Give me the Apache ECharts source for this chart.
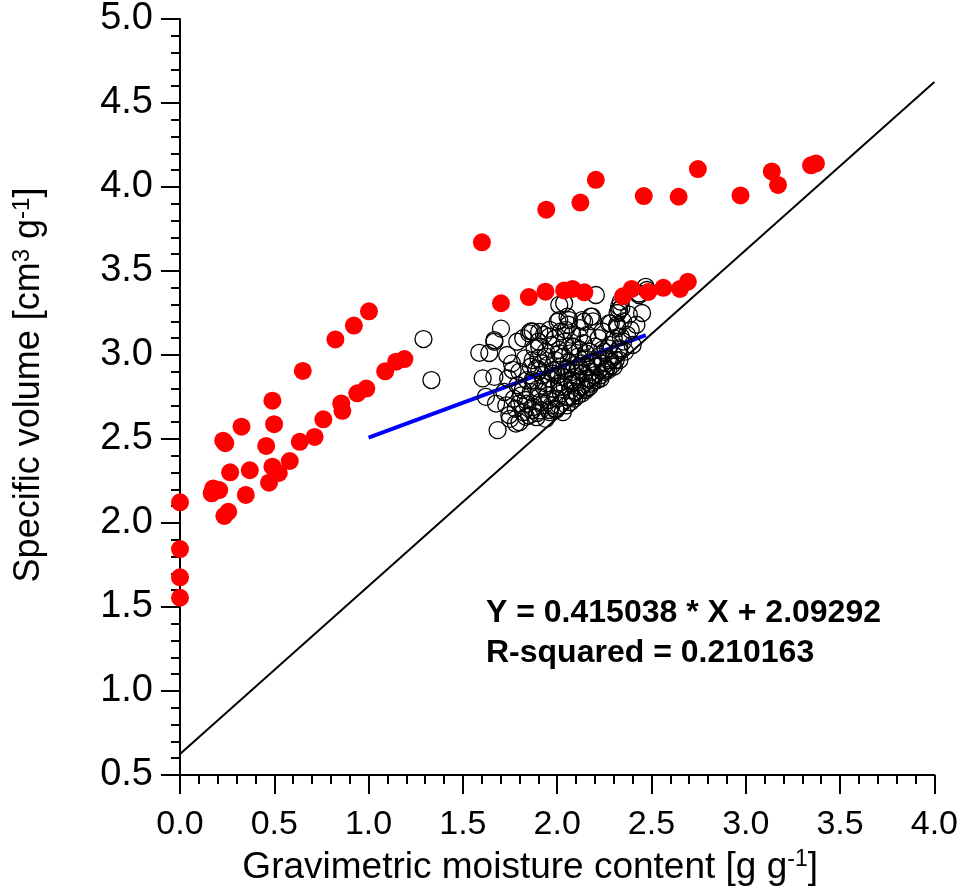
<!DOCTYPE html>
<html>
<head>
<meta charset="utf-8">
<script src="https://cdn.jsdelivr.net/npm/echarts@6/dist/echarts.min.js"></script>
<style>
html,body{margin:0;padding:0;background:#fff;}
#chart{width:961px;height:891px;}
</style>
</head>
<body>
<div id="chart"></div>
<script>
// Red filled points: [moisture, specific volume]
const redPoints = [
  [0.0,2.123],[0.0,1.845],[0.0,1.677],[0.0,1.555],
  [1.002,3.26],[0.922,3.175],[0.824,3.093],[0.651,2.905],[0.490,2.728],[0.499,2.588],
  [0.326,2.573],[0.229,2.49],[0.24,2.475],[0.457,2.459],[0.635,2.483],[0.714,2.512],
  [0.760,2.617],[0.855,2.712],[0.861,2.668],[0.940,2.772],[0.988,2.80],[1.088,2.903],
  [1.146,2.960],[1.190,2.976],[0.266,2.302],[0.370,2.314],[0.490,2.335],[0.524,2.298],
  [0.582,2.369],[0.472,2.240],[0.349,2.167],[0.176,2.206],[0.208,2.196],[0.168,2.177],
  [0.235,2.042],[0.256,2.067],
  [1.601,3.671],[1.942,3.865],[2.123,3.907],[2.205,4.043],[2.459,3.946],[2.644,3.942],
  [2.746,4.107],[2.972,3.950],[3.138,4.093],[3.171,4.012],[3.346,4.129],[3.372,4.140],
  [1.702,3.308],[1.850,3.345],[1.938,3.377],[2.037,3.384],[2.081,3.393],[2.144,3.373],
  [2.349,3.349],[2.395,3.393],[2.483,3.375],[2.563,3.40],[2.651,3.393],[2.693,3.436]
];

// Black open circles: [moisture, specific volume]
const blackPoints = [
  [1.291,3.095],[1.333,2.851],
  [1.702,3.157],[1.587,3.013],[1.640,3.012],[1.667,3.079],[1.735,3.00],[1.605,2.861],
  [1.667,2.87],[1.622,2.751],[1.676,2.711],[1.684,2.553],[1.746,2.643],[1.781,2.592],
  [1.834,2.632],[1.894,2.655],[1.958,2.673],[1.788,3.079],[1.852,3.129],[2.011,3.298],
  [2.037,3.308],[2.055,3.228],[2.011,3.208],[2.132,3.208],[2.185,3.228],[2.205,3.357],
  [2.328,3.288],[2.32,3.25],[2.434,3.366],[2.476,3.387],[2.275,3.188],[2.317,3.179],
  [2.337,3.109],[2.328,3.03],[2.275,2.970],[2.257,2.911],[2.238,3.03],[2.178,2.851],
  [2.152,2.792],[2.081,2.751],[1.993,2.673],[1.799,2.711],[1.817,2.792],[1.764,2.911],
  [1.870,2.970],[1.905,3.049],[1.958,3.109],[2.046,3.149],[2.116,3.109],[2.152,3.01],
  [2.081,3.049],[2.011,3.01],[1.940,2.99],[1.905,2.911],[1.975,2.89],[2.046,2.911],
  [2.116,2.93],[2.081,2.851],[2.011,2.811],[1.940,2.831],[1.870,2.851],[1.834,2.732],
  [1.905,2.751],[1.958,2.732],[1.870,2.673],
  [2.337,3.317],[2.328,3.268],[2.469,3.406],[2.434,3.357],[2.002,3.198],[2.063,3.208],
  [2.143,3.198],[2.178,3.228],[2.284,3.188],[2.319,3.168],[1.87,3.14],[1.905,3.138],
  [1.667,3.089],
  [1.86,2.78],[1.88,2.84],[1.89,2.92],[1.90,2.98],[1.91,2.72],[1.92,2.88],[1.93,2.81],
  [1.94,3.02],[1.95,2.76],[1.95,2.94],[1.96,2.86],[1.97,2.70],[1.97,3.06],[1.98,2.91],
  [1.98,2.80],[1.99,2.97],[2.00,2.74],[2.00,2.88],[2.01,3.03],[2.01,2.83],[2.02,2.93],
  [2.02,2.77],[2.03,2.99],[2.03,2.87],[2.04,2.81],[2.04,3.08],[2.05,2.92],[2.05,2.75],
  [2.06,2.96],[2.06,2.85],[2.07,3.01],[2.07,2.79],[2.08,2.90],[2.08,2.83],[2.09,3.05],
  [2.09,2.94],[2.10,2.87],[2.10,2.78],[2.11,2.99],[2.11,2.91],[2.12,2.84],[2.12,3.03],
  [2.13,2.95],[2.13,2.81],[2.14,2.89],[2.14,3.07],[2.15,2.98],[2.16,2.86],[2.16,2.93],
  [2.17,3.02],[2.18,2.90],[2.18,2.83],[2.19,2.96],[2.20,3.05],[2.20,2.88],[2.21,2.93],
  [2.22,2.99],[2.23,2.86],[2.24,2.95],[2.25,3.02],[2.26,2.92],[2.27,2.98],[2.28,3.06],
  [2.29,2.94],[2.30,3.00],[2.31,2.97],[2.33,3.04],[2.35,3.08],[2.37,3.12],[2.39,3.15],
  [2.42,3.18],[2.45,3.25],
  [1.72,2.78],[1.73,2.70],[1.74,2.86],[1.75,2.62],[1.76,2.95],[1.77,2.74],[1.78,2.68],
  [1.79,2.82],[1.80,2.90],[1.80,2.60],[1.81,2.76],[1.82,2.66],[1.83,2.98],[1.84,2.71],
  [1.84,2.85],[1.85,2.64],[1.86,2.93],[1.87,2.69],[1.88,3.04],[1.89,2.63],[1.90,2.80],
  [1.91,2.67],[1.92,2.95],[1.93,2.70],[1.94,2.62],[1.96,2.66],[1.99,2.68],[2.01,2.70],
  [2.03,2.66],[2.05,2.70],[2.07,2.72],[2.09,2.74],[2.11,2.76],[2.13,2.77],[2.15,2.80],
  [2.17,2.81],[2.19,2.84],[2.21,2.85],[2.23,2.88],[2.25,2.90],[2.27,2.91],[2.30,2.93],
  [2.33,2.97],[2.36,3.02],[2.40,3.06],
  [1.82,3.10],[1.86,3.14],[1.90,3.08],[1.93,3.12],[1.96,3.15],[1.99,3.10],[2.02,3.14],
  [2.06,3.18],[2.08,3.12],[2.12,3.16],[2.16,3.12],[2.19,3.20],[2.22,3.10],[2.24,3.14],
  [2.27,3.04],[2.30,3.10],[2.32,3.16],[2.35,3.20],[2.38,3.24],[2.34,3.28]
];

// Regression line endpoints (Y = 0.415038 * X + 2.09292)
const fitLine = [[1.0,2.508],[2.47,3.118]];
// 1:1 reference line endpoints
const refLine = [[0.0,0.625],[4.0,4.625]];

const eqText1 = 'Y = 0.415038 * X + 2.09292';
const eqText2 = 'R-squared = 0.210163';

const chart = echarts.init(document.getElementById('chart'), null, {renderer:'canvas'});
const FONT = '"Liberation Sans", Arial, sans-serif';
chart.setOption({
  animation:false,
  backgroundColor:'#fff',
  grid:{left:180,right:25,top:18,bottom:116,containLabel:false},
  xAxis:{
    type:'value',min:0,max:4,interval:0.5,
    axisLine:{show:true,onZero:false,lineStyle:{color:'#000',width:2}},
    axisTick:{show:true,inside:false,length:19,lineStyle:{color:'#000',width:2}},
    minorTick:{show:true,splitNumber:5,length:9,lineStyle:{color:'#000',width:2}},
    splitLine:{show:false},
    axisLabel:{color:'#000',fontFamily:FONT,fontSize:34,margin:33,formatter:v=>v.toFixed(1)},
    name:'Gravimetric moisture content [g g{sup|-1}]',
    nameLocation:'middle',nameGap:73,
    nameTextStyle:{color:'#000',fontFamily:FONT,fontSize:37,padding:[0,54,0,0],
      rich:{sup:{fontFamily:FONT,fontSize:23,color:'#000',verticalAlign:'bottom',padding:[0,0,16,0]}}}
  },
  yAxis:{
    type:'value',min:0.5,max:5,interval:0.5,
    axisLine:{show:true,onZero:false,lineStyle:{color:'#000',width:2}},
    axisTick:{show:true,inside:false,length:19,lineStyle:{color:'#000',width:2}},
    minorTick:{show:true,splitNumber:5,length:9,lineStyle:{color:'#000',width:2}},
    splitLine:{show:false},
    axisLabel:{color:'#000',fontFamily:FONT,fontSize:38,margin:27,formatter:v=>v.toFixed(1)},
    name:'Specific volume [cm{sup|3} g{sup|-1}]',
    nameLocation:'middle',nameGap:132,
    nameTextStyle:{color:'#000',fontFamily:FONT,fontSize:36,padding:[0,0,0,24],
      rich:{sup:{fontFamily:FONT,fontSize:24,color:'#000',verticalAlign:'bottom',padding:[0,0,14,0]}}}
  },
  series:[
    {type:'line',data:refLine,symbol:'none',lineStyle:{color:'#000',width:2},z:1,silent:true},
    {type:'line',data:fitLine,symbol:'none',lineStyle:{color:'#0000ff',width:4},z:2,silent:true},
    {type:'scatter',data:blackPoints,symbol:'circle',symbolSize:17,
      itemStyle:{color:'rgba(0,0,0,0)',borderColor:'#000',borderWidth:1.3,opacity:1},z:3},
    {type:'scatter',data:redPoints,symbol:'circle',symbolSize:18,
      itemStyle:{color:'#ff0000',borderWidth:0,opacity:1},z:4}
  ],
  graphic:[
    {type:'text',left:486,top:597,style:{text:eqText1,fill:'#000',font:'bold 32px "Liberation Sans", Arial, sans-serif'}},
    {type:'text',left:486,top:637,style:{text:eqText2,fill:'#000',font:'bold 32px "Liberation Sans", Arial, sans-serif'}}
  ]
});
</script>
</body>
</html>
